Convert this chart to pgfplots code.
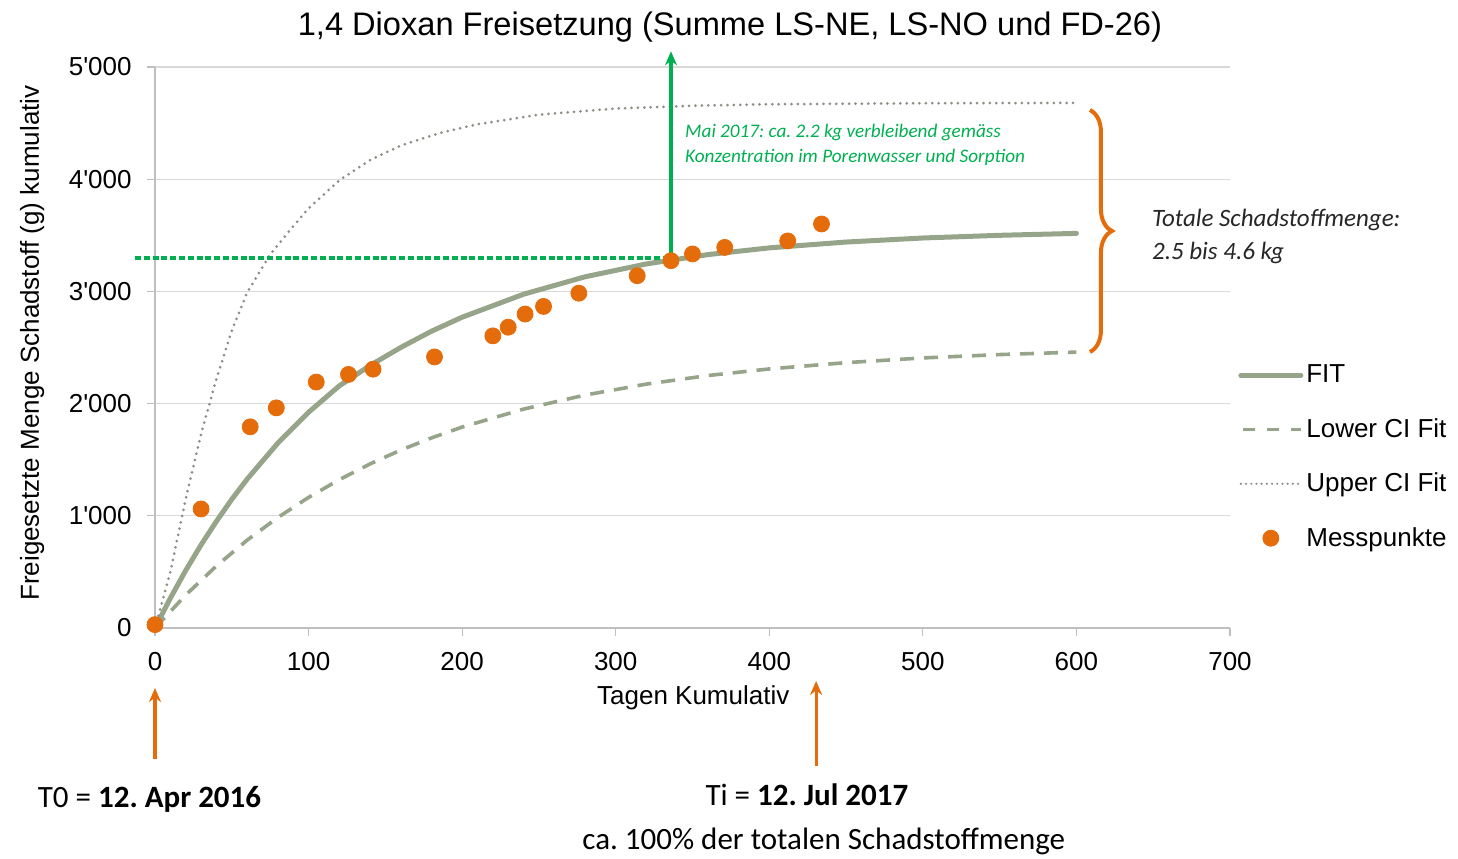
\documentclass[border=0pt]{standalone}
\usepackage{fontspec}
\setmainfont{Liberation Sans}
\newfontfamily\calibri{Carlito}
\usepackage{pgfplots}
\pgfplotsset{compat=1.18}
\usetikzlibrary{decorations.pathreplacing,arrows.meta}

\definecolor{fitcol}{RGB}{150,165,138}
\definecolor{uppcol}{RGB}{138,145,132}
\definecolor{orng}{RGB}{228,108,10}
\definecolor{grn}{RGB}{0,176,80}
\definecolor{gridc}{RGB}{217,217,217}
\definecolor{axc}{RGB}{191,191,191}
\definecolor{txt}{RGB}{38,38,38}
\frenchspacing
\begin{document}
\begin{tikzpicture}
\useasboundingbox (-77.5pt,-115pt) rectangle (651.5pt,314pt);
\begin{axis}[
  scale only axis, width=537.5pt, height=280.5pt,
  xmin=0, xmax=700, ymin=0, ymax=5000,
  axis x line=bottom, axis y line=left,
  axis line style={axc, line width=0.6pt, -},
  xtick={0,100,...,700}, ytick={0,1000,...,5000},
  yticklabels={0,1\textquotesingle000,2\textquotesingle000,3\textquotesingle000,4\textquotesingle000,5\textquotesingle000},
  ymajorgrids, major grid style={gridc, line width=0.6pt},
  tick style={axc, line width=0.6pt}, tick align=outside, major tick length=4pt,
  tick label style={font=\fontsize{13}{15}\selectfont, text=black, inner sep=0pt},
  /pgf/number format/assume math mode=true,
  xticklabel style={anchor=north, yshift=-8pt},
  yticklabel style={anchor=east, xshift=-7.5pt},
  clip=false,
  legend style={at={(rel axis cs:1.0074,0.475)}, anchor=north west, draw=none, fill=none,
    font=\fontsize{13}{15}\selectfont, row sep=13.3pt, inner sep=0pt,
    nodes={inner sep=1.5pt}},
  legend cell align=left,
]
\addplot[fitcol, line width=2.5pt, line cap=round,
  legend image code/.code={\draw[fitcol,line width=2.5pt,line cap=round] (0pt,0pt) -- (30pt,0pt);}]
coordinates {(0,0) (10,266) (20,513) (30,741) (40,951) (50,1147) (60,1327) (80,1648)
 (100,1923) (120,2158) (140,2340) (160,2500) (180,2645) (200,2770) (240,2975) (280,3130)
 (320,3245) (360,3328) (400,3388) (450,3440) (500,3476) (550,3500) (600,3517)};
\addlegendentry{FIT}
\addplot[fitcol, line width=1.8pt, dash pattern=on 7pt off 5pt,
  legend image code/.code={\draw[fitcol,line width=1.8pt,dash pattern=on 6pt off 6pt, dash phase=-1pt] (0pt,0pt) -- (30pt,0pt);}]
coordinates {(0,0) (20,294) (40,553) (60,783) (80,985) (100,1164) (120,1322) (140,1462)
 (160,1586) (180,1694) (200,1791) (240,1951) (280,2076) (320,2174) (360,2250) (400,2309)
 (450,2365) (500,2407) (550,2437) (600,2459)};
\addlegendentry{Lower CI Fit}
\addplot[uppcol, line width=1.5pt, dash pattern=on 0pt off 3.2pt, line cap=round,
  legend image code/.code={\draw[uppcol,line width=1.2pt,dash pattern=on 0pt off 2.6pt,line cap=round] (0pt,0pt) -- (30pt,0pt);}]
coordinates {(0,0) (10,500) (20,1150) (30,1730) (40,2220) (50,2650) (60,2990) (75,3330)
 (90,3580) (100,3740) (120,3990) (140,4170) (160,4300) (185,4410) (210,4490) (250,4575)
 (300,4630) (350,4655) (400,4668) (500,4677) (600,4680)};
\addlegendentry{Upper CI Fit}
\addplot[only marks, mark=*, mark size=4pt, mark options={fill=orng, draw=orng},
  legend image code/.code={\fill[orng] (15pt,0pt) circle (4pt);}]
coordinates {(0,30) (30,1061) (62,1793) (79,1962) (105,2192) (126,2260) (142,2307)
 (182,2416) (220,2604) (230,2681) (241,2798) (253,2866) (276,2984) (314,3140)
 (336,3274) (350,3334) (371,3392) (412,3450) (434,3601)};
\addlegendentry{Messpunkte}

% title and labels
\node[anchor=base, font=\fontsize{16.3}{19}\selectfont] at (axis cs:374.4,5285) {1,4 Dioxan Freisetzung (Summe LS-NE, LS-NO und FD-26)};
\node[rotate=90, font=\fontsize{13}{15}\selectfont] at (axis cs:-80,2540) {Freigesetzte Menge Schadstoff (g) kumulativ};
\node[font=\fontsize{13}{15}\selectfont] at (axis cs:350.5,-625) {Tagen Kumulativ};

% green marker
\draw[grn, line width=2.2pt, dash pattern=on 3pt off 1.4pt] (axis cs:-13,3300) -- (axis cs:336,3300);
\draw[grn, line width=1.6pt, -{Stealth[length=7pt,width=6pt]}] (axis cs:336,3300) -- (axis cs:336,5140);
\node[anchor=base west, align=left, text=grn, font=\calibri\itshape\fontsize{9.6}{12.7}\selectfont, inner sep=0pt]
  at (axis cs:345,4147) {Mai 2017: ca. 2.2 kg verbleibend gemäss\\Konzentration im Porenwasser und Sorption};

% brace
\draw[orng, line width=2pt, decorate, decoration={brace, amplitude=11pt}] (axis cs:608.8,4617) -- (axis cs:608.8,2460);
\node[anchor=base west, align=left, text=txt, font=\calibri\itshape\fontsize{12.5}{16.5}\selectfont, inner sep=0pt]
  at (axis cs:649,3280) {Totale Schadstoffmenge:\\2.5 bis 4.6 kg};

% bottom annotations
\draw[orng, line width=1.6pt, -{Stealth[length=7pt,width=6pt]}] (axis cs:0,-1168) -- (axis cs:0,-535);
\draw[orng, line width=1.6pt, -{Stealth[length=7pt,width=6pt]}] (axis cs:430.5,-1230) -- (axis cs:430.5,-472);
\node[anchor=base, font=\calibri\fontsize{15.5}{18}\selectfont, inner sep=0pt] at (axis cs:-3.6,-1604) {T0 = \textbf{12. Apr 2016}};
\node[anchor=base, font=\calibri\fontsize{15.5}{18}\selectfont, inner sep=0pt] at (axis cs:424.5,-1578) {Ti = \textbf{12. Jul 2017}};
\node[anchor=base, font=\calibri\fontsize{15.5}{18}\selectfont, inner sep=0pt] at (axis cs:435.5,-1975) {ca. 100\% der totalen Schadstoffmenge};
\end{axis}
\end{tikzpicture}
\end{document}
